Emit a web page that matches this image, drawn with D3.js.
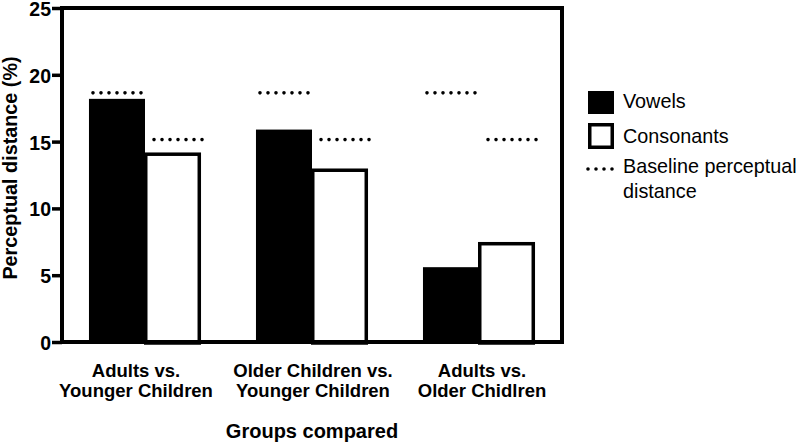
<!DOCTYPE html>
<html>
<head>
<meta charset="utf-8">
<script src="https://cdn.jsdelivr.net/npm/d3@7"></script>
<style>
  html, body { margin: 0; padding: 0; background: #fff; }
  svg { display: block; font-family: "Liberation Sans", Arial, Helvetica, sans-serif; }
</style>
</head>
<body>
<svg id="chart" width="800" height="442"></svg>
<script>
// ---- data ----
const groups = ["Adults vs.\nYounger Children", "Older Children vs.\nYounger Children", "Adults vs.\nOlder Chidlren"];
const series = ["Vowels", "Consonants"];
const vowels = [18.2, 15.9, 5.6];
const consonants = [14.0, 12.8, 7.3];
const baselineVowels = [18.65, 18.65, 18.65];
const baselineConsonants = [15.15, 15.15, 15.15];
const yTicks = [0, 5, 10, 15, 20, 25];
const legendLabels = ["Vowels", "Consonants", "Baseline perceptual\ndistance"];
const yTitle = "Perceptual distance (%)";
const xTitle = "Groups compared";

// ---- layout ----
const mLeft = 62, mRight = 562, mTop = 8, mBottom = 342;
const labelShift = [-9, 1, 3];
const svg = d3.select("#chart");

const x0 = d3.scaleBand().domain(groups).range([mLeft, mRight]).paddingInner(0.329).paddingOuter(0.1615);
const x1 = d3.scaleBand().domain(series).range([0, x0.bandwidth()]);
const y = d3.scaleLinear().domain([0, 25]).range([mBottom, mTop]);

const rows = groups.map((g, i) => ({ g, vals: [vowels[i], consonants[i]], base: [baselineVowels[i], baselineConsonants[i]] }));

// bars
const gBars = svg.append("g");
rows.forEach(r => {
  series.forEach((s, j) => {
    const bx = x0(r.g) + x1(s);
    const bw = x1.bandwidth();
    if (j === 0) {
      gBars.append("rect")
        .attr("x", bx).attr("y", y(r.vals[j]))
        .attr("width", bw).attr("height", y(0) - y(r.vals[j]))
        .attr("fill", "#000");
    } else {
      const sw = 3.5;
      gBars.append("rect")
        .attr("x", bx + sw / 2 - 1).attr("y", y(r.vals[j]) - sw / 2 + 1)
        .attr("width", bw - sw + 1).attr("height", y(0) - y(r.vals[j]) + sw / 2)
        .attr("fill", "#fff").attr("stroke", "#000").attr("stroke-width", sw);
    }
  });
});

// baseline dotted lines
const dotOffsets = [0, 5];
rows.forEach(r => {
  series.forEach((s, j) => {
    const cx = x0(r.g) + x1(s) + x1.bandwidth() / 2 + dotOffsets[j];
    gBars.append("line")
      .attr("x1", cx - 24).attr("x2", cx + 24.5)
      .attr("y1", y(r.base[j])).attr("y2", y(r.base[j]))
      .attr("stroke", "#000").attr("stroke-width", 3.6)
      .attr("stroke-linecap", "round").attr("stroke-dasharray", "0 8");
  });
});

// frame (top & right)
svg.append("line").attr("x1", mLeft - 2).attr("x2", mRight + 2).attr("y1", mTop).attr("y2", mTop)
  .attr("stroke", "#000").attr("stroke-width", 4);
svg.append("line").attr("x1", mRight).attr("x2", mRight).attr("y1", mTop - 2).attr("y2", mBottom + 2)
  .attr("stroke", "#000").attr("stroke-width", 4);

// y axis
const yAxis = svg.append("g").attr("transform", `translate(${mLeft},0)`)
  .call(d3.axisLeft(y).tickValues(yTicks).tickSize(10).tickPadding(1).tickSizeOuter(0));
yAxis.select(".domain").attr("stroke", "#000").attr("stroke-width", 4).attr("d", `M0,${mTop - 2}V${mBottom + 2}`);
yAxis.selectAll(".tick line").attr("stroke", "#000").attr("stroke-width", 3.5);
yAxis.selectAll(".tick text").attr("font-size", 19.5).attr("font-weight", "bold").attr("fill", "#000")
  .attr("dy", "0.38em")
  .attr("font-family", "Liberation Sans, Arial, sans-serif");

// x axis
const xAxis = svg.append("g").attr("transform", `translate(0,${mBottom})`)
  .call(d3.axisBottom(x0).tickSize(0).tickFormat(""));
xAxis.select(".domain").attr("stroke", "#000").attr("stroke-width", 4).attr("d", `M${mLeft - 2},0H${mRight + 2}`);
xAxis.selectAll(".tick").each(function(d, i) {
  const t = d3.select(this).append("text")
    .attr("fill", "#000").attr("font-size", 18.5).attr("font-weight", "bold")
    .attr("text-anchor", "middle").attr("font-family", "Liberation Sans, Arial, sans-serif");
  d.split("\n").forEach((line, k) => {
    t.append("tspan").attr("x", labelShift[i]).attr("y", 35 + k * 20).text(line);
  });
});

// titles
svg.append("text").attr("x", (mLeft + mRight) / 2).attr("y", 438)
  .attr("text-anchor", "middle").attr("font-size", 20).attr("font-weight", "bold").text(xTitle);
svg.append("text").attr("transform", "translate(17,168) rotate(-90)")
  .attr("text-anchor", "middle").attr("font-size", 19.8).attr("font-weight", "bold").text(yTitle);

// legend
const lg = svg.append("g");
lg.append("rect").attr("x", 588).attr("y", 91).attr("width", 26).attr("height", 23).attr("fill", "#000");
lg.append("rect").attr("x", 589.75).attr("y", 124.75).attr("width", 22.5).attr("height", 22.5)
  .attr("fill", "#fff").attr("stroke", "#000").attr("stroke-width", 3.5);
lg.append("line").attr("x1", 588).attr("x2", 612.5).attr("y1", 169).attr("y2", 169)
  .attr("stroke", "#000").attr("stroke-width", 3.6).attr("stroke-linecap", "round").attr("stroke-dasharray", "0 8");
const legY = [108, 143, 173];
legendLabels.forEach((lab, i) => {
  const t = lg.append("text").attr("font-size", 19.8).attr("fill", "#000");
  lab.split("\n").forEach((line, k) => {
    t.append("tspan").attr("x", 623).attr("y", legY[i] + k * 25).text(line);
  });
});
</script>
</body>
</html>
